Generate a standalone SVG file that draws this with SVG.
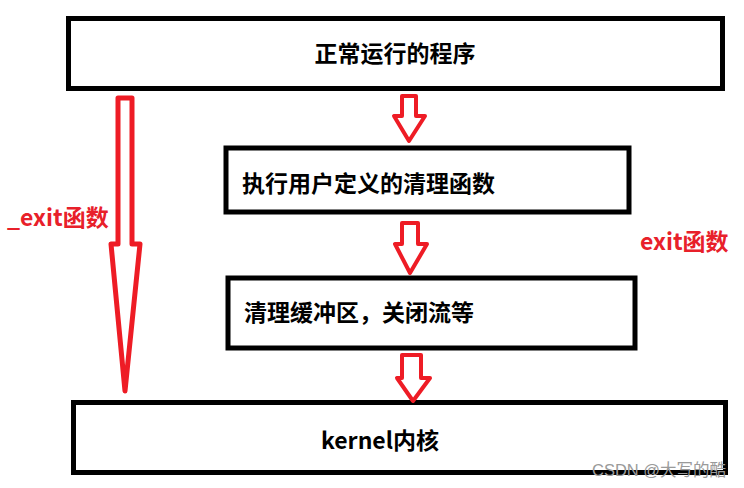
<svg xmlns="http://www.w3.org/2000/svg" width="744" height="488" viewBox="0 0 744 488">
<style>
.box{fill:#fff;stroke:#000;stroke-width:5}
.t{font-family:"Microsoft YaHei","Noto Sans CJK SC",sans-serif;font-weight:bold;font-size:23px;fill:#000}
.r{font-family:"Microsoft YaHei","Noto Sans CJK SC",sans-serif;font-weight:bold;font-size:23px;fill:#e8202a}
.arr{fill:#fff;stroke:#ee1c25;stroke-width:4;stroke-linejoin:round}
.wm{font-family:"Liberation Sans","Noto Sans CJK SC",sans-serif;font-size:16.5px;fill:#9a9a9a}
</style>
<rect width="744" height="488" fill="#fff"/>
<g id="n1"><rect class="box" x="68.5" y="18.5" width="654" height="70"/><text class="t" x="395" y="62" text-anchor="middle">正常运行的程序</text></g>
<g id="n2"><rect class="box" x="226" y="148" width="403" height="64"/><text class="t" x="242" y="192">执行用户定义的清理函数</text></g>
<g id="n3"><rect class="box" x="228" y="278" width="407" height="70"/><text class="t" x="244" y="321">清理缓冲区，关闭流等</text></g>
<g id="n4"><rect class="box" x="73.5" y="402.5" width="652" height="70"/><text class="t" x="380" y="449" text-anchor="middle">kernel内核</text></g>
<g id="connectors">
<polygon class="arr" style="stroke-width:5" points="118,98 132,98 132,244 140,244 125,391 111,244 118,244"/>
<polygon class="arr" points="402,96 416,96 416,116 425,116 409,141 394,116 402,116"/>
<polygon class="arr" points="402,223 418,223 418,244 427,244 410,273 395,244 402,244"/>
<polygon class="arr" points="402,355 421,355 421,378 430,378 413,401 397,378 402,378"/>
<text class="r" x="7" y="226">_exit函数</text>
<text class="r" x="640" y="250">exit函数</text>
</g>
<text class="wm" x="592" y="476">CSDN @大写的酷</text>
</svg>
